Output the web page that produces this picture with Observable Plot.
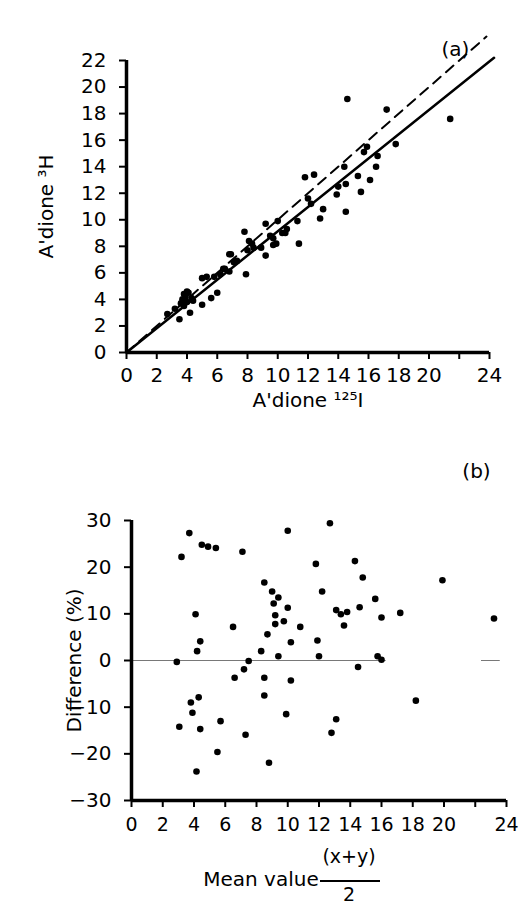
<!DOCTYPE html>
<html><head><meta charset="utf-8">
<script src="https://cdn.jsdelivr.net/npm/d3@7"></script>
<script src="https://cdn.jsdelivr.net/npm/@observablehq/plot@0.6"></script>
<style>
body{margin:0;background:#fff;}
#wrap{position:relative;width:519px;height:912px;overflow:hidden;background:#fff;}
#wrap svg{position:absolute;left:0;}
</style></head><body><div id="wrap"></div>
<script>
// ---------- Panel (a) data ----------
const aX = [2.7,3.2,3.5,3.6,3.7,3.8,3.9,4.0,4.1,4.2,4.3,4.4,4.0,3.8,5.0,5.6,6.0,5.0,5.3,6.5,6.8,6.8,7.1,7.3,7.9,7.8,8.0,8.1,8.3,8.9,9.2,9.2,9.5,9.7,9.7,9.9,10.0,10.3,10.5,10.6,11.3,11.4,11.8,12.4,12.0,12.2,12.8,13.0,14.0,13.9,14.4,14.5,14.5,14.6,15.3,15.5,15.7,15.9,16.1,16.5,16.6,17.2,17.8,21.4,6.2,5.8,6.4,8.4,6.9];
const aY = [2.9,3.3,2.5,3.7,4.0,4.4,4.2,3.8,4.5,3.0,4.1,3.9,4.6,3.5,3.6,4.1,4.5,5.6,5.7,6.3,6.1,7.4,6.8,6.9,5.9,9.1,7.7,8.4,8.2,7.9,9.7,7.3,8.8,8.6,8.1,8.2,9.9,9.0,9.0,9.3,9.9,8.2,13.2,13.4,11.6,11.2,10.1,10.8,12.5,11.9,14.0,12.7,10.6,19.1,13.3,12.1,15.1,15.5,13.0,14.0,14.8,18.3,15.7,17.6,5.9,5.7,6.3,7.9,7.4];
const fitX = [0, 24.3], fitY = [0, 22.2];          // solid regression line
const identX = [0, 23.8], identY = [0, 23.8];      // dashed line of identity
const ticksA_X = [0,2,4,6,8,10,12,14,16,18,20,22,24];
const ticksA_Y = [0,2,4,6,8,10,12,14,16,18,20,22];
const hiddenX = [22];

// ---------- Panel (b) data ----------
const bX = [3.7,3.2,4.5,4.9,5.4,7.1,10.0,8.5,9.0,9.4,9.1,10.0,9.2,9.75,9.2,10.8,8.7,10.2,8.3,9.4,7.5,7.2,6.6,8.5,10.2,8.5,6.5,4.1,4.4,4.2,2.9,4.3,3.8,3.9,3.06,4.4,4.16,5.7,5.5,7.3,9.9,8.8,13.1,12.8,12.7,11.8,14.3,14.8,12.2,19.9,15.6,14.6,13.1,13.4,13.8,13.6,16.0,17.2,23.2,11.9,12.0,15.75,16.0,14.5,18.2];
const bY = [27.3,22.2,24.8,24.4,24.1,23.3,27.8,16.7,14.8,13.5,12.2,11.3,9.7,8.4,7.8,7.2,5.6,3.9,2.0,0.9,-0.1,-1.9,-3.7,-3.7,-4.3,-7.5,7.2,9.9,4.1,2.0,-0.3,-7.9,-9.0,-11.2,-14.2,-14.7,-23.8,-13.0,-19.6,-15.9,-11.5,-21.9,-12.6,-15.5,29.4,20.7,21.3,17.8,14.8,17.2,13.2,11.4,10.8,9.9,10.4,7.5,9.2,10.2,9.0,4.3,0.9,0.9,0.15,-1.4,-8.6];
const zeroStart = [0, 22.4], zeroEnd = [16.3, 23.6];
const ticksB_X = [0,2,4,6,8,10,12,14,16,18,20,22,24];
const ticksB_Y = [-30,-20,-10,0,10,20,30];

const FONT = "DejaVu Sans, sans-serif";
const wrap = document.getElementById("wrap");
const ptsA = aX.map((x,i)=>({x, y:aY[i]}));
const ptsB = bX.map((x,i)=>({x, y:bY[i]}));
const fitLine = fitX.map((x,i)=>({x, y:fitY[i]}));
const identLine = identX.map((x,i)=>({x, y:identY[i]}));
const zeroSegs = zeroStart.map((s,i)=>({x1:s, x2:zeroEnd[i]}));
const fmtX = d => hiddenX.includes(d) ? "" : String(d);
const fmtY = d => d < 0 ? "\u2212" + (-d) : String(d);

const plotA = Plot.plot({
  width: 519, height: 440,
  marginLeft: 126, marginRight: 30, marginTop: 60, marginBottom: 88,
  style: {fontFamily: FONT, fontSize: "20px", background: "#fff", color: "#000"},
  x: {domain: [0, 24]},
  y: {domain: [0, 22]},
  marks: [
    Plot.axisX({ticks: ticksA_X, tickFormat: fmtX, tickSize: 7, tickPadding: 8, strokeWidth: 2, label: null, fontSize: 20}),
    Plot.axisY({ticks: ticksA_Y, tickFormat: fmtY, tickSize: 7, tickPadding: 13, strokeWidth: 2, label: null, fontSize: 20}),
    Plot.ruleY([0], {x1: 0, x2: 24, strokeWidth: 3.5}),
    Plot.ruleX([0], {y1: 0, y2: 22, strokeWidth: 3.5}),
    Plot.line(identLine, {x: "x", y: "y", strokeWidth: 2, strokeDasharray: "10,7"}),
    Plot.line(fitLine, {x: "x", y: "y", strokeWidth: 2.5}),
    Plot.dot(ptsA, {x: "x", y: "y", r: 3.3, fill: "#000", stroke: "none"}),
    Plot.text(["A'dione \u00b9\u00b2\u2075I"], {frameAnchor: "bottom", dy: 54, fontSize: 20}),
    Plot.text(["A'dione \u00b3H"], {frameAnchor: "left", textAnchor: "middle", dx: -80, rotate: -90, fontSize: 20}),
    Plot.text(["(a)"], {frameAnchor: "top-right", textAnchor: "middle", dx: -34, dy: -19, fontSize: 20})
  ]
});
plotA.style.top = "0px";
wrap.appendChild(plotA);

const plotB = Plot.plot({
  width: 519, height: 472,
  marginLeft: 131, marginRight: 13, marginTop: 80, marginBottom: 112,
  style: {fontFamily: FONT, fontSize: "20px", background: "#fff", color: "#000"},
  x: {domain: [0, 24]},
  y: {domain: [-30, 30]},
  marks: [
    Plot.ruleY(zeroSegs, {y: 0, x1: "x1", x2: "x2", strokeWidth: 0.8, stroke: "#555"}),
    Plot.axisX({ticks: ticksB_X, tickFormat: fmtX, tickSize: 7, tickPadding: 10, strokeWidth: 2, label: null, fontSize: 19}),
    Plot.axisY({ticks: ticksB_Y, tickFormat: fmtY, tickSize: 7, tickPadding: 13, strokeWidth: 2, label: null, fontSize: 20}),
    Plot.ruleY([-30], {x1: 0, x2: 24, strokeWidth: 3.5}),
    Plot.ruleX([0], {y1: -30, y2: 30, strokeWidth: 3.5}),
    Plot.dot(ptsB, {x: "x", y: "y", r: 3.3, fill: "#000", stroke: "none"}),
    Plot.text(["Difference (%)"], {frameAnchor: "left", textAnchor: "middle", dx: -57, rotate: -90, fontSize: 20}),
    Plot.text(["Mean value"], {frameAnchor: "bottom", dx: -58, dy: 85, fontSize: 20}),
    Plot.text(["(x+y)"], {frameAnchor: "bottom", dx: 30, dy: 62, fontSize: 19}),
    Plot.text(["2"], {frameAnchor: "bottom", dx: 30, dy: 100, fontSize: 19}),
    Plot.text(["(b)"], {frameAnchor: "top-right", textAnchor: "middle", dx: -30, dy: -57, fontSize: 20})
  ]
});
plotB.style.top = "440px";
wrap.appendChild(plotB);
// fraction bar under (x+y)
d3.select(plotB).append("line")
  .attr("x1", 320).attr("x2", 380).attr("y1", 441).attr("y2", 441)
  .attr("stroke", "#000").attr("stroke-width", 1.8);
</script></body></html>
